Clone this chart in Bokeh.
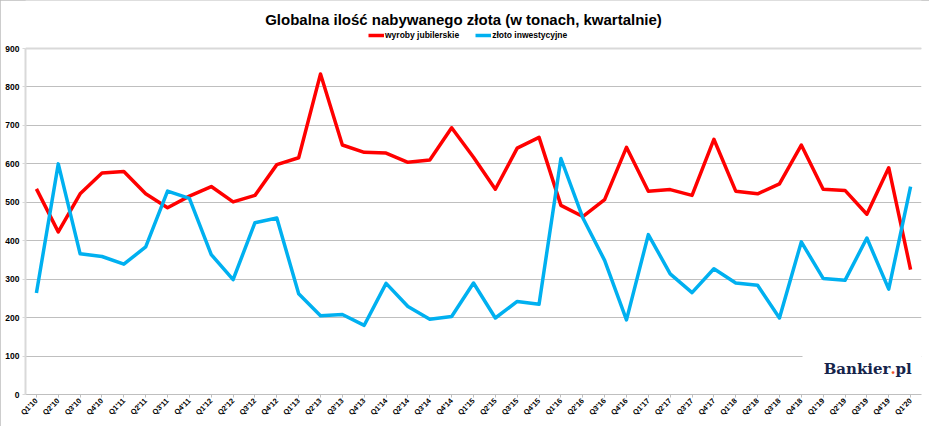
import math
from bokeh.plotting import figure
from bokeh.models import ColumnDataSource, Legend, LegendItem, Label, Span, BoxAnnotation, FixedTicker
from bokeh.embed import file_html
from bokeh.resources import INLINE

# kwartaly Q1'10 - Q1'20
kwartaly = ["Q1'10", "Q2'10", "Q3'10", "Q4'10",
            "Q1'11", "Q2'11", "Q3'11", "Q4'11",
            "Q1'12", "Q2'12", "Q3'12", "Q4'12",
            "Q1'13", "Q2'13", "Q3'13", "Q4'13",
            "Q1'14", "Q2'14", "Q3'14", "Q4'14",
            "Q1'15", "Q2'15", "Q3'15", "Q4'15",
            "Q1'16", "Q2'16", "Q3'16", "Q4'16",
            "Q1'17", "Q2'17", "Q3'17", "Q4'17",
            "Q1'18", "Q2'18", "Q3'18", "Q4'18",
            "Q1'19", "Q2'19", "Q3'19", "Q4'19",
            "Q1'20"]

# tony
jubilerskie = [535, 423, 522, 576,
               580, 522, 486, 516,
               541, 501, 518, 598,
               616, 834, 649, 630,
               628, 604, 610, 694,
               617, 534, 641, 669,
               492, 463, 507, 643,
               529, 533, 518, 664,
               529, 522, 548, 649,
               534, 531, 469, 590,
               325]

inwestycyjne = [264, 600, 366, 359,
                339, 384, 529, 510,
                364, 299, 447, 459,
                262, 205, 208, 180,
                289, 229, 196, 203,
                290, 199, 242, 235,
                614, 460, 349, 194,
                416, 314, 265, 327,
                290, 284, 199, 397,
                302, 297, 407, 274,
                541]

poziomy = [0, 100, 200, 300, 400, 500, 600, 700, 800, 900]

tytul = "Globalna ilość nabywanego złota (w tonach, kwartalnie)"
etykiety = ["wyroby jubilerskie", "złoto inwestycyjne"]
kolory = ["#ff0000", "#00b0f0"]

source = ColumnDataSource(dict(kwartal=kwartaly, jub=jubilerskie, inw=inwestycyjne))

# zakres y ponad 900 zostawia miejsce na tytul i legende w ramce
p = figure(x_range=kwartaly, y_range=(0, 1025), width=929, height=426, title=None,
           output_backend="svg", toolbar_location=None,
           min_border_left=25, min_border_right=8, min_border_top=0, min_border_bottom=32)

p.outline_line_color = None
p.styles = {"outline": "1px solid #bcbcbc", "outline-offset": "-1px"}

l1 = p.line(x="kwartal", y="jub", source=source, color=kolory[0], line_width=3.5, line_join="round")
l2 = p.line(x="kwartal", y="inw", source=source, color=kolory[1], line_width=3.5, line_join="round")

# tytul
p.add_layout(Label(x=438, y=900, x_units="screen", y_offset=29, text=tytul,
                   text_align="center", text_baseline="alphabetic",
                   text_font="Liberation Sans", text_font_size="15px",
                   text_font_style="bold", text_color="#000000"))

legend = Legend(items=[LegendItem(label=etykiety[0], renderers=[l1]),
                       LegendItem(label=etykiety[1], renderers=[l2])],
                orientation="horizontal", location=(343, 354),
                label_text_font="Liberation Sans", label_text_font_size="8.5px",
                label_text_font_style="bold", label_text_color="#000000",
                label_standoff=1, glyph_width=16, glyph_height=10, label_height=10,
                spacing=16, padding=2, margin=0,
                border_line_color=None, background_fill_alpha=0)
p.add_layout(legend)

# siatka
p.xgrid.grid_line_color = None
p.ygrid.grid_line_color = "#bfbfbf"
p.ygrid.grid_line_width = 1
p.add_layout(Span(location=900, dimension="width", line_color="#d9d9d9", line_width=2))

p.yaxis.ticker = FixedTicker(ticks=poziomy)
p.yaxis.bounds = (0, 900)
p.yaxis.axis_line_color = "#d9d9d9"
p.yaxis.axis_line_width = 2
p.yaxis.major_tick_line_color = "#d9d9d9"
p.yaxis.major_tick_in = 0
p.yaxis.major_tick_out = 3
p.yaxis.minor_tick_line_color = None
p.yaxis.major_label_standoff = 3
p.yaxis.major_label_text_font = "Liberation Sans"
p.yaxis.major_label_text_font_size = "8.5px"
p.yaxis.major_label_text_font_style = "bold"
p.yaxis.major_label_text_color = "#000000"

p.xaxis.axis_line_color = "#bfbfbf"
p.xaxis.major_tick_line_color = "#bfbfbf"
p.xaxis.major_tick_in = 0
p.xaxis.major_tick_out = 3
p.xaxis.major_label_orientation = math.pi / 4
p.xaxis.major_label_standoff = 2
p.xaxis.major_label_text_font = "Liberation Sans"
p.xaxis.major_label_text_font_size = "7.5px"
p.xaxis.major_label_text_font_style = "bold"
p.xaxis.major_label_text_color = "#000000"

# logo Bankier.pl
p.add_layout(BoxAnnotation(left=777, right=896, bottom=60, top=140,
                           left_units="screen", right_units="screen",
                           fill_color="white", fill_alpha=1, line_color=None))
logo = dict(x_units="screen", y=0, y_offset=26, text_font="DejaVu Serif",
            text_font_size="15px", text_font_style="bold", text_baseline="alphabetic")
p.add_layout(Label(x=865, text="Bankier", text_align="right", text_color="#16244a", **logo))
p.add_layout(Label(x=865, text=".", text_align="left", text_color="#f0542d", **logo))
p.add_layout(Label(x=870, text="pl", text_align="left", text_color="#16244a", **logo))

open("out.html", "w").write(file_html(p, INLINE))
